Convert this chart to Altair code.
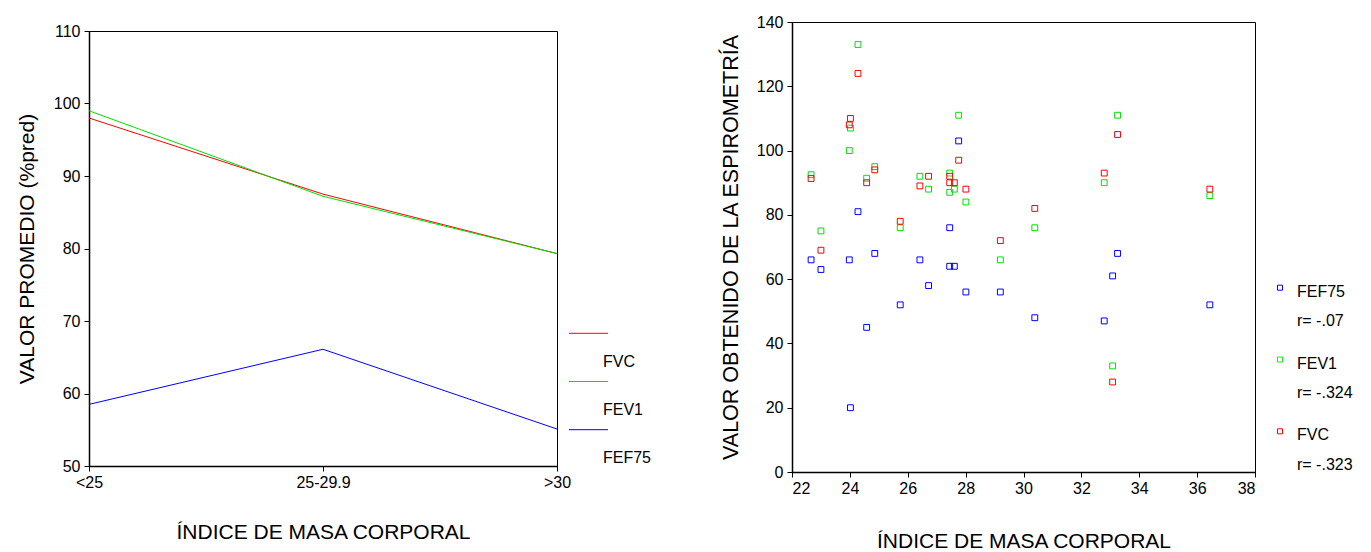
import altair as alt
import pandas as pd

# ---------------- data ----------------
categories = ["<25", "25-29.9", ">30"]
fvc_mean = [98.0, 87.5, 79.3]
fev1_mean = [99.0, 87.2, 79.3]
fef75_mean = [58.5, 66.1, 55.1]

bmi = [22.66, 23.0, 23.98, 24.02, 24.28, 24.58, 24.86, 25.74, 26.42, 26.72,
       27.45, 27.45, 27.61, 27.76, 28.01, 29.2, 30.39, 32.79, 33.08, 33.25, 36.44]
fef75 = [66, 63, 66, 20, 81, 45, 68, 52, 66, 58, 76, 64, 64, 103, 56, 56, 48, 47, 61, 68, 52]
fev1 = [92.5, 75, 100, 107, 133, 91.4, 95, 76, 92, 88, 93, 87, 88, 111, 84, 66, 76, 90, 33, 111, 86]
fvc = [91.3, 69, 108, 110, 124, 90, 94, 78, 89, 92, 92, 90, 90, 97, 88, 72, 82, 93, 28, 105, 88]

left_series = ["FVC", "FEV1", "FEF75"]
right_series = ["FEF75", "FEV1", "FVC"]
r_labels = ["r= -.07", "r= -.324", "r= -.323"]
series_colors = {"FVC": "#FF0000", "FEV1": "#00E000", "FEF75": "#0000FF"}
point_colors = {"FVC": "#FF0000", "FEV1": "#00FF00", "FEF75": "#0000FF"}

FONT = "Liberation Sans"

# ---------------- left chart ----------------
left_df = pd.DataFrame({
    "cat": categories * 3,
    "value": fvc_mean + fev1_mean + fef75_mean,
    "serie": ["FVC"] * 3 + ["FEV1"] * 3 + ["FEF75"] * 3,
})

LW, LH = 468, 435

lines = alt.Chart(left_df).mark_line(strokeWidth=1).encode(
    x=alt.X("cat:O", sort=categories,
            scale=alt.Scale(type="point", padding=0),
            axis=alt.Axis(title="ÍNDICE DE MASA CORPORAL", labelAngle=0, titlePadding=31,
                          labelPadding=3)),
    y=alt.Y("value:Q", scale=alt.Scale(domain=[50, 110], nice=False, zero=False),
            axis=alt.Axis(values=list(range(50, 111, 10)), title="VALOR PROMEDIO (%pred)",
                          titlePadding=16, labelPadding=4)),
    color=alt.Color("serie:N",
                    scale=alt.Scale(domain=left_series,
                                    range=[series_colors[s] for s in left_series]),
                    legend=None),
    order=alt.Order("serie:N"),
)

left_layers = [lines]
one = pd.DataFrame({"a": [0]})
for i, s in enumerate(left_series):
    ly = 302.3 + i * 48.2
    left_layers.append(
        alt.Chart(one).mark_rule(color=series_colors[s], strokeWidth=1).encode(
            x=alt.value(480), x2=alt.value(519), y=alt.value(ly))
    )
    left_layers.append(
        alt.Chart(one).mark_text(align="left", baseline="middle", font=FONT,
                                 fontSize=16, color="black").encode(
            x=alt.value(514), y=alt.value(ly + 28.5), text=alt.value(s))
    )

left_main = alt.layer(*left_layers).properties(width=LW, height=LH)

spacer = alt.Chart(one).mark_point(opacity=0).encode(
    x=alt.value(0), y=alt.value(0)
).properties(width=LW, height=1, view=alt.ViewBackground(strokeOpacity=0))

left = alt.vconcat(spacer, left_main, spacing=-3)

# ---------------- right chart ----------------
n = len(bmi)
right_df = pd.DataFrame({
    "bmi": bmi * 3,
    "value": fef75 + fev1 + fvc,
    "serie": ["FEF75"] * n + ["FEV1"] * n + ["FVC"] * n,
})

RW, RH = 463, 450

points = alt.Chart(right_df).mark_point(shape="square", filled=False, size=34,
                                        strokeWidth=1, opacity=1).encode(
    x=alt.X("bmi:Q", scale=alt.Scale(domain=[22, 38], nice=False, zero=False),
            axis=alt.Axis(values=list(range(22, 39, 2)), title="ÍNDICE DE MASA CORPORAL",
                          titlePadding=34, labelPadding=3)),
    y=alt.Y("value:Q", scale=alt.Scale(domain=[0, 140], nice=False),
            axis=alt.Axis(values=list(range(0, 141, 20)),
                          title="VALOR OBTENIDO DE LA ESPIROMETRÍA", titlePadding=14,
                          titleFontSize=21.5, labelPadding=4)),
    color=alt.Color("serie:N",
                    scale=alt.Scale(domain=right_series,
                                    range=[point_colors[s] for s in right_series]),
                    legend=None),
)

right_layers = [points]
for i, s in enumerate(right_series):
    sy = 265.7 + i * 71.8
    right_layers.append(
        alt.Chart(one).mark_point(shape="square", filled=False, size=25, strokeWidth=1,
                                  opacity=1, color=point_colors[s]).encode(
            x=alt.value(488), y=alt.value(sy))
    )
    right_layers.append(
        alt.Chart(one).mark_text(align="left", baseline="middle", font=FONT,
                                 fontSize=16, color="black").encode(
            x=alt.value(505), y=alt.value(sy + 4), text=alt.value(s))
    )
    right_layers.append(
        alt.Chart(one).mark_text(align="left", baseline="middle", font=FONT,
                                 fontSize=16, color="black").encode(
            x=alt.value(505), y=alt.value(sy + 33.5), text=alt.value(r_labels[i]))
    )

right = alt.layer(*right_layers).properties(width=RW, height=RH)

chart = alt.hconcat(left, right, spacing=67).properties(
    padding={"left": 15, "top": 13, "right": 0, "bottom": 0},
    background="white",
).configure_axis(
    labelFont=FONT, labelFontSize=16, labelColor="black",
    titleFont=FONT, titleFontSize=21, titleFontWeight="normal", titleColor="black",
    domainColor="black", domainWidth=1.5, tickColor="black", tickSize=5, tickWidth=1,
    grid=False,
).configure_view(
    stroke="black", strokeWidth=1,
).configure_title(font=FONT)

chart.save("out.html", embed_options={"renderer": "svg", "actions": False})
